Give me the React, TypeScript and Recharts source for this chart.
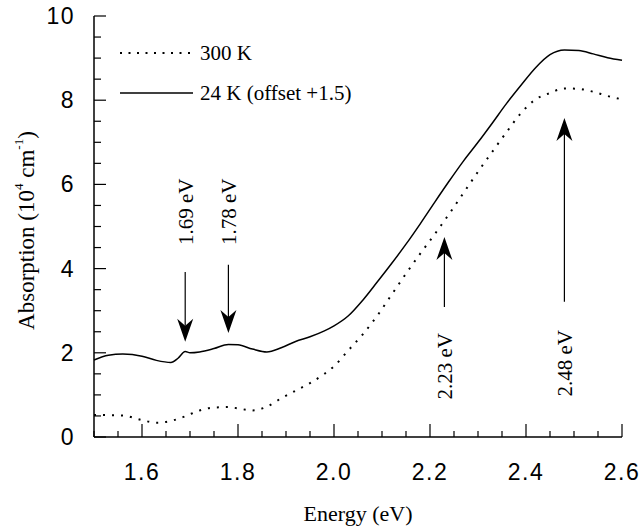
import { LineChart, Line, XAxis, YAxis, ReferenceLine, ReferenceDot } from 'recharts'

// photon energy (eV), shared by both spectra
const energy = [
  1.5, 1.53, 1.56, 1.6, 1.63, 1.66, 1.675, 1.69, 1.7, 1.72, 1.75, 1.78, 1.8, 1.83, 1.86, 1.89,
  1.92, 1.95, 1.98, 2.0, 2.03, 2.06, 2.09, 2.12, 2.15, 2.18, 2.21, 2.24, 2.27, 2.3, 2.33, 2.36,
  2.39, 2.42, 2.45, 2.48, 2.51, 2.54, 2.57, 2.6,
]

// absorption, 10^4 cm^-1
const abs300K = [
  0.52, 0.52, 0.51, 0.4, 0.34, 0.38, 0.43, 0.49, 0.54, 0.63, 0.7, 0.71, 0.68, 0.63, 0.72, 0.92,
  1.1, 1.28, 1.5, 1.68, 2.06, 2.44, 2.88, 3.38, 3.88, 4.36, 4.82, 5.3, 5.8, 6.3, 6.78, 7.25,
  7.7, 8.02, 8.17, 8.28, 8.27, 8.2, 8.1, 8.02,
]

// 24 K spectrum, already offset by +1.5
const abs24K = [
  1.83, 1.94, 1.97, 1.92, 1.82, 1.77, 1.87, 2.03, 2.0, 2.02, 2.1, 2.2, 2.19, 2.09, 2.02, 2.12,
  2.27, 2.38, 2.52, 2.64, 2.88, 3.25, 3.68, 4.12, 4.58, 5.07, 5.58, 6.08, 6.56, 7.0, 7.46, 7.93,
  8.36, 8.77, 9.08, 9.19, 9.18, 9.1, 9.01, 8.95,
]

const xTicks = [
  1.5, 1.55, 1.6, 1.65, 1.7, 1.75, 1.8, 1.85, 1.9, 1.95, 2.0, 2.05, 2.1, 2.15, 2.2, 2.25, 2.3,
  2.35, 2.4, 2.45, 2.5, 2.55, 2.6,
]
const xMajor = [1.6, 1.8, 2.0, 2.2, 2.4, 2.6]
const yTicks = [
  0, 0.5, 1, 1.5, 2, 2.5, 3, 3.5, 4, 4.5, 5, 5.5, 6, 6.5, 7, 7.5, 8, 8.5, 9, 9.5, 10,
]
const yMajor = [0, 2, 4, 6, 8, 10]

// arrows marking the transitions
const arrowEnergy = [1.69, 1.78, 2.23, 2.48]
const arrowTail = [3.92, 4.09, 3.09, 3.21]
const arrowTip = [2.26, 2.47, 4.75, 7.58]
const arrowLabelY = [4.56, 4.56, 2.47, 2.54]
const arrowLabel = ['1.69 eV', '1.78 eV', '2.23 eV', '2.48 eV']

const data = energy.map((e, i) => ({ energy: e, k300: abs300K[i], k24: abs24K[i] }))

const SANS = "'Liberation Sans', Arial, sans-serif"
const SERIF = "'Liberation Serif', 'Times New Roman', serif"

function XTick(props: any) {
  const { x, y, payload } = props
  const major = xMajor.includes(payload.value)
  return (
    <g>
      <line x1={x} x2={x} y1={y} y2={y - (major ? 13 : 6)} stroke="#000" strokeWidth={1.2} />
      {major && (
        <text
          x={x}
          y={y + 35}
          textAnchor="middle"
          dominantBaseline="central"
          fontFamily={SANS}
          fontSize={23}
          letterSpacing={1.5}
          fill="#000"
        >
          {payload.value.toFixed(1)}
        </text>
      )}
    </g>
  )
}

function YTick(props: any) {
  const { x, y, payload } = props
  const major = yMajor.includes(payload.value)
  return (
    <g>
      <line x1={x} x2={x + (major ? 12 : 7)} y1={y} y2={y} stroke="#000" strokeWidth={1.2} />
      {major && (
        <text
          x={x - 19}
          y={y}
          textAnchor="end"
          dominantBaseline="central"
          fontFamily={SANS}
          fontSize={23}
          letterSpacing={1.5}
          fill="#000"
        >
          {payload.value}
        </text>
      )}
    </g>
  )
}

function Arrow(props: any) {
  const { x1, y1, x2, y2 } = props
  const dir = y2 > y1 ? 1 : -1
  const back = y2 - dir * 16
  const wing = y2 - dir * 23
  return (
    <g>
      <line x1={x1} x2={x2} y1={y1} y2={back} stroke="#000" strokeWidth={1.2} />
      <path d={`M${x2},${y2} L${x2 - 8},${wing} L${x2},${back} L${x2 + 8},${wing} Z`} fill="#000" />
    </g>
  )
}

function ArrowText(label: string, up: boolean) {
  return (props: any) => {
    const { cx, cy } = props
    return (
      <text
        x={cx + 1}
        y={cy}
        transform={`rotate(-90 ${cx + 1} ${cy})`}
        textAnchor={up ? 'end' : 'start'}
        dominantBaseline="central"
        fontFamily={SERIF}
        fontSize={21}
        fill="#000"
      >
        {label}
      </text>
    )
  }
}

function YTitle(props: any) {
  const { viewBox } = props
  const cx = 26
  const cy = viewBox.y + viewBox.height / 2 + 4
  return (
    <text
      x={cx}
      y={cy}
      transform={`rotate(-90 ${cx} ${cy})`}
      textAnchor="middle"
      dominantBaseline="central"
      fontFamily={SERIF}
      fontSize={23}
      fill="#000"
    >
      Absorption (10
      <tspan fontSize={13} dy={-8}>4</tspan>
      <tspan dy={8}> cm</tspan>
      <tspan fontSize={13} dy={-8}>-1</tspan>
      <tspan dy={8}>)</tspan>
    </text>
  )
}

function XTitle(props: any) {
  const { viewBox } = props
  return (
    <text
      x={viewBox.x + viewBox.width / 2}
      y={513}
      textAnchor="middle"
      dominantBaseline="central"
      fontFamily={SERIF}
      fontSize={22}
      fill="#000"
    >
      Energy (eV)
    </text>
  )
}

function LegendBox() {
  const rows = [
    { label: '300 K', dash: '2 6.5', w: 2 },
    { label: '24 K (offset +1.5)', dash: undefined, w: 1.5 },
  ]
  return (
    <div style={{ position: 'absolute', left: 120, top: 40, fontFamily: SERIF, fontSize: 21 }}>
      {rows.map((r) => (
        <div key={r.label} style={{ display: 'flex', alignItems: 'center', height: 26, marginBottom: 14 }}>
          <svg width={73} height={6} style={{ marginRight: 7 }}>
            <line x1={0} x2={73} y1={3} y2={3} stroke="#000" strokeWidth={r.w} strokeDasharray={r.dash} />
          </svg>
          <span>{r.label}</span>
        </div>
      ))}
    </div>
  )
}

export default function App() {
  return (
    <div style={{ position: 'absolute', left: 0, top: 0, width: 644, height: 529, background: '#fff' }}>
      <LineChart width={644} height={529} data={data} margin={{ top: 16, right: 22, bottom: 0, left: 0 }}>
        <XAxis
          dataKey="energy"
          type="number"
          domain={[1.5, 2.6]}
          ticks={xTicks}
          interval={0}
          height={92}
          tickSize={0}
          tickMargin={0}
          tick={<XTick />}
          axisLine={{ stroke: '#000', strokeWidth: 1.5 }}
          label={<XTitle />}
        />
        <XAxis
          xAxisId="top"
          dataKey="energy"
          type="number"
          domain={[1.5, 2.6]}
          orientation="top"
          height={0}
          tick={false}
          tickLine={false}
          axisLine={{ stroke: '#000', strokeWidth: 1.5 }}
        />
        <YAxis
          type="number"
          domain={[0, 10]}
          ticks={yTicks}
          interval={0}
          width={94}
          tickSize={0}
          tickMargin={0}
          tick={<YTick />}
          axisLine={{ stroke: '#000', strokeWidth: 1.5 }}
          label={<YTitle />}
        />
        <YAxis
          yAxisId="right"
          type="number"
          domain={[0, 10]}
          orientation="right"
          width={0}
          tick={false}
          tickLine={false}
          axisLine={{ stroke: '#000', strokeWidth: 1.5 }}
        />
        <Line
          dataKey="k300"
          type="monotone"
          stroke="#000"
          strokeWidth={2}
          strokeDasharray="2 7"
          dot={false}
          isAnimationActive={false}
        />
        <Line
          dataKey="k24"
          type="monotone"
          stroke="#000"
          strokeWidth={1.5}
          dot={false}
          isAnimationActive={false}
        />
        {arrowEnergy.map((e, i) => (
          <ReferenceLine
            key={`a${i}`}
            segment={[
              { x: e, y: arrowTail[i] },
              { x: e, y: arrowTip[i] },
            ]}
            shape={<Arrow />}
          />
        ))}
        {arrowEnergy.map((e, i) => (
          <ReferenceDot
            key={`t${i}`}
            x={e}
            y={arrowLabelY[i]}
            shape={ArrowText(arrowLabel[i], arrowTip[i] > arrowTail[i])}
          />
        ))}
      </LineChart>
      <LegendBox />
    </div>
  )
}
